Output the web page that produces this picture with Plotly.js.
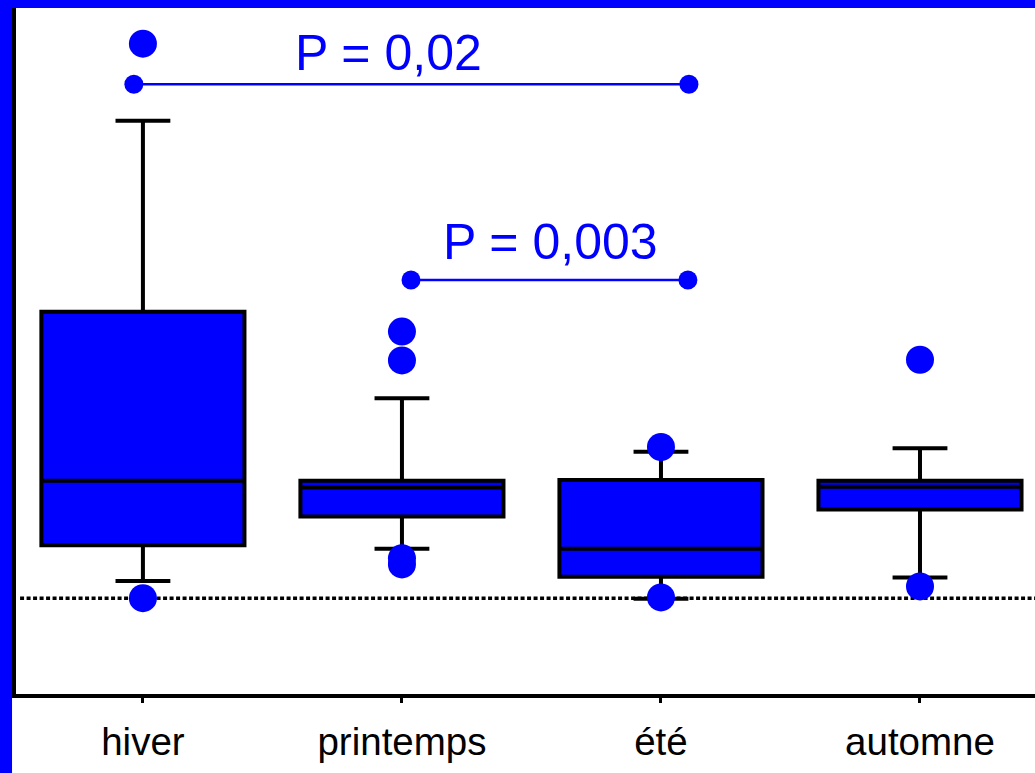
<!DOCTYPE html>
<html>
<head>
<meta charset="utf-8">
<script src="https://cdn.plot.ly/plotly-3.0.1.min.js"></script>
<style>
  html, body { margin: 0; padding: 0; background: #ffffff; }
  #chart { width: 1035px; height: 773px; }
</style>
</head>
<body>
<div id="chart"></div>
<script>
// Categories (seasons) and their positions on the numeric x axis
const categories = ["hiver", "printemps", "été", "automne"];
const positions = [0, 1, 2, 3];

// Box statistics (arbitrary units)
const lowerFence = [16.6, 21.3, 14.0, 17.1];
const q1         = [21.8, 26.0, 17.2, 27.0];
const median     = [31.2, 30.2, 21.3, 30.3];
const q3         = [55.8, 31.2, 31.3, 31.2];
const upperFence = [83.6, 43.2, 35.4, 35.9];

// Outlying points
const outlierX = [0, 0, 1, 1, 1, 1, 2, 2, 3, 3];
const outlierY = [94.8, 14.1, 52.9, 48.7, 19.9, 19.0, 36.1, 14.2, 48.8, 15.8];

// Reference level (dotted line)
const referenceLevel = 14.1;

// Significance comparisons
const comparisons = [
  { from: -0.035, to: 2.108, level: 88.9, label: "P = 0,02",  labelX: 0.95,  labelY: 93.5 },
  { from: 1.035,  to: 2.104, level: 60.4, label: "P = 0,003", labelX: 1.573, labelY: 65.9 }
];

const BLUE = "#0000ff";
const FONT = "Liberation Sans, Arial, sans-serif";

const traces = [];

traces.push({
  type: "box",
  x: positions,
  q1: q1,
  median: median,
  q3: q3,
  lowerfence: lowerFence,
  upperfence: upperFence,
  width: 0.784,
  whiskerwidth: 0.27,
  boxpoints: false,
  fillcolor: BLUE,
  line: { color: "#000000", width: 4 },
  hoverinfo: "skip",
  showlegend: false
});

traces.push({
  type: "scatter",
  mode: "markers",
  x: outlierX,
  y: outlierY,
  marker: { color: BLUE, size: 28, line: { width: 0 } },
  hoverinfo: "skip",
  showlegend: false,
  cliponaxis: false
});

comparisons.forEach(c => {
  traces.push({
    type: "scatter",
    mode: "lines+markers",
    x: [c.from, c.to],
    y: [c.level, c.level],
    line: { color: BLUE, width: 2.5 },
    marker: { color: BLUE, size: 19 },
    hoverinfo: "skip",
    showlegend: false,
    cliponaxis: false
  });
});

const annotations = comparisons.map(c => ({
  x: c.labelX, y: c.labelY, xref: "x", yref: "y",
  text: c.label, showarrow: false,
  xanchor: "center", yanchor: "middle",
  font: { family: FONT, size: 50, color: BLUE }
}));

const shapes = [
  // dotted reference line
  { type: "line", xref: "paper", yref: "y", x0: 0.004, x1: 1, y0: referenceLevel, y1: referenceLevel,
    line: { color: "#000000", width: 3.5, dash: "4px,2.5px" }, layer: "below" },
  // blue frame: left strip
  { type: "rect", xref: "paper", yref: "paper", x0: -0.0157, x1: -0.0039, y0: -0.12, y1: 1.02,
    fillcolor: BLUE, line: { width: 0 }, layer: "above" },
  // blue frame: top strip
  { type: "rect", xref: "paper", yref: "paper", x0: -0.02, x1: 1.01, y0: 1.0, y1: 1.02,
    fillcolor: BLUE, line: { width: 0 }, layer: "above" }
];

const layout = {
  width: 1035,
  height: 773,
  margin: { l: 16, r: 0, t: 8, b: 79, pad: 0 },
  paper_bgcolor: "#ffffff",
  plot_bgcolor: "#ffffff",
  showlegend: false,
  font: { family: FONT, color: "#000000" },
  xaxis: {
    range: [-0.490, 3.444],
    tickvals: positions,
    ticktext: categories,
    ticks: "outside",
    ticklen: 5,
    tickwidth: 3,
    tickcolor: "#000000",
    ticklabelstandoff: 6,
    showline: true,
    linecolor: "#000000",
    linewidth: 4,
    showgrid: false,
    zeroline: false,
    tickfont: { family: FONT, size: 38.5, color: "#000000" },
    fixedrange: true
  },
  yaxis: {
    range: [0.146, 100],
    showticklabels: false,
    ticks: "",
    showline: true,
    linecolor: "#000000",
    linewidth: 4,
    showgrid: false,
    zeroline: false,
    fixedrange: true
  },
  shapes: shapes,
  annotations: annotations
};

Plotly.newPlot("chart", traces, layout, { displayModeBar: false, staticPlot: true });
</script>
</body>
</html>
